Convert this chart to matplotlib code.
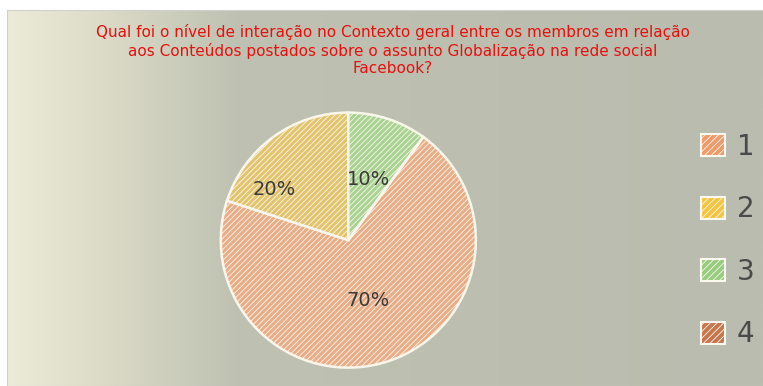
import numpy as np
import matplotlib
matplotlib.use('Agg')
import matplotlib.pyplot as plt
from matplotlib.colors import LinearSegmentedColormap

# data
categories = ['1', '2', '3', '4']
values = [70, 20, 10, 0]
colors = ['#e9ae88', '#e2c46e', '#a9d392', '#c9845c']
legend_colors = ['#ee9a6a', '#f4c541', '#98cc7e', '#c8764e']
title = ('Qual foi o nível de interação no Contexto geral entre os membros em relação\n'
         'aos Conteúdos postados sobre o assunto Globalização na rede social\n'
         'Facebook?')

plt.rcParams['hatch.linewidth'] = 0.6

fig = plt.figure(figsize=(7.63, 3.86), dpi=100)
fig.patch.set_facecolor('white')

# background panel (grey photo-like backdrop)
bg = fig.add_axes([7 / 763, 0, 1 - 7 / 763, 1 - 10 / 386])
cmap = LinearSegmentedColormap.from_list(
    'bg', [(0.0, '#ecebd9'), (0.12, '#dcdcc8'), (0.3, '#bfc2b2'), (1.0, '#b9bcae')])
bg.imshow(np.linspace(0, 1, 256).reshape(1, -1), aspect='auto', cmap=cmap,
          extent=[0, 1, 0, 1])
bg.set_xticks([])
bg.set_yticks([])
for s in bg.spines.values():
    s.set_color('#d0d0d0')

# title
fig.text(393 / 763, 1 - 24 / 386, title, ha='center', va='top', color='#e8100e',
         fontsize=11, linespacing=1.2)

# pie
ax = fig.add_axes([0.286, 0.041, 0.341, 0.674])


def fmt(p):
    return '%.0f%%' % p if p > 0.5 else ''


wedges, texts, autotexts = ax.pie(values, colors=colors, startangle=54,
                                  counterclock=False, autopct=fmt,
                                  pctdistance=0.5,
                                  wedgeprops=dict(edgecolor='#fbf6ec', linewidth=1.8,
                                                  hatch='//////'),
                                  textprops=dict(fontsize=14, color='#3a3a3a'))
autotexts[1].set_position((-0.58, 0.40))
ax.set_xlim(-1.02, 1.02)
ax.set_ylim(-1.02, 1.02)
ax.axis('off')

# legend
handles = [plt.Rectangle((0, 0), 1, 1, facecolor=c, edgecolor='#fbf8f0', linewidth=1.5,
                         hatch='/////') for c in legend_colors]
fig.legend(handles, categories, loc='upper left', bbox_to_anchor=(701 / 763, 1 - 133 / 386),
           frameon=False, fontsize=20, labelspacing=1.24, handlelength=0.85,
           handleheight=0.85, handletextpad=0.45, borderpad=0, borderaxespad=0,
           labelcolor='#4a4a4a')

fig.savefig('out.png', dpi=100)
